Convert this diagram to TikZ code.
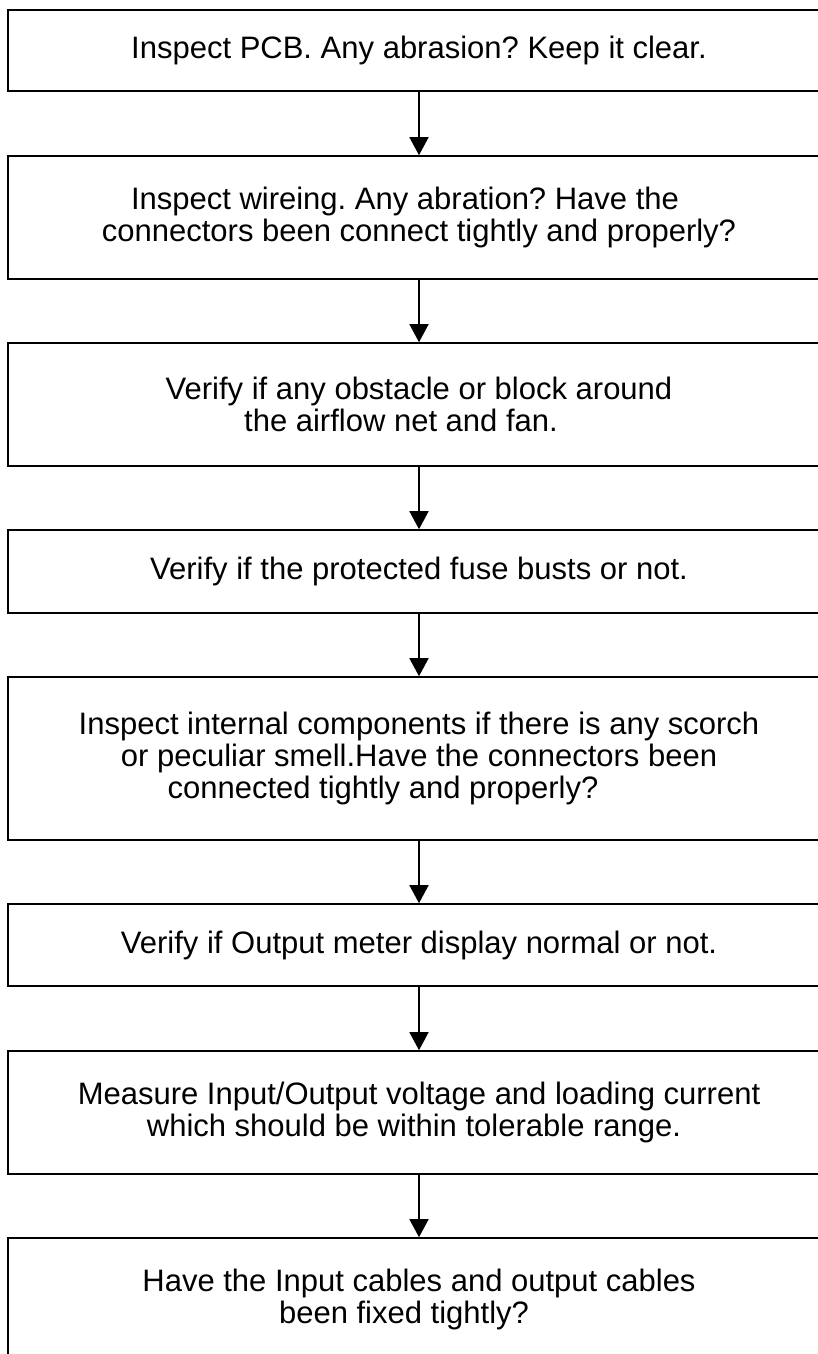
\documentclass[tikz,border=0pt]{standalone}
\usepackage{fontspec}
\setmainfont{Liberation Sans}
\usetikzlibrary{arrows.meta}
\frenchspacing
\tikzset{
  flowbox/.style={draw=black, line width=1.6pt, minimum width=822pt, inner sep=0pt,
    align=center, font=\fontsize{31pt}{32pt}\selectfont\frenchspacing, text=black},
  flowarrow/.style={draw=black, line width=1.6pt, -{Triangle[length=18pt,width=19pt]}}
}
\begin{document}
\begin{tikzpicture}[x=1pt,y=1pt]
\useasboundingbox (0,0) rectangle (818,-1354);
\clip (0,0) rectangle (818,-1354);
\fill[white] (0,0) rectangle (818,-1354);
\node[flowbox, minimum height=81pt] (b1) at (419,-50.5) {Inspect PCB. Any abrasion? Keep it clear.};
\node[flowbox, minimum height=123pt] (b2) at (419,-217.5) {Inspect wireing. Any abration? Have the\hspace*{28pt}\\connectors been connect tightly and properly?};
\node[flowbox, minimum height=123pt] (b3) at (419,-404.5) {Verify if any obstacle or block around\\the airflow net and fan.\hspace*{36pt}};
\node[flowbox, minimum height=83pt] (b4) at (419,-571.5) {Verify if the protected fuse busts or not.};
\node[flowbox, minimum height=163pt] (b5) at (419,-758.5) {Inspect internal components if there is any scorch\\or peculiar smell.Have the connectors been\hspace*{20pt}\\connected tightly and properly?\hspace*{72pt}};
\node[flowbox, minimum height=82pt] (b6) at (419,-945) {Verify if Output meter display normal or not.};
\node[flowbox, minimum height=123pt] (b7) at (419,-1112.5) {Measure Input/Output voltage and loading current\\which should be within tolerable range.\hspace*{10pt}};
\node[flowbox, minimum height=123pt] (b8) at (419,-1299.5) {Have the Input cables and output cables\\been fixed tightly?\hspace*{30pt}};
\draw[flowarrow] (b1) -- (b2);
\draw[flowarrow] (b2) -- (b3);
\draw[flowarrow] (b3) -- (b4);
\draw[flowarrow] (b4) -- (b5);
\draw[flowarrow] (b5) -- (b6);
\draw[flowarrow] (b6) -- (b7);
\draw[flowarrow] (b7) -- (b8);
\end{tikzpicture}
\end{document}
